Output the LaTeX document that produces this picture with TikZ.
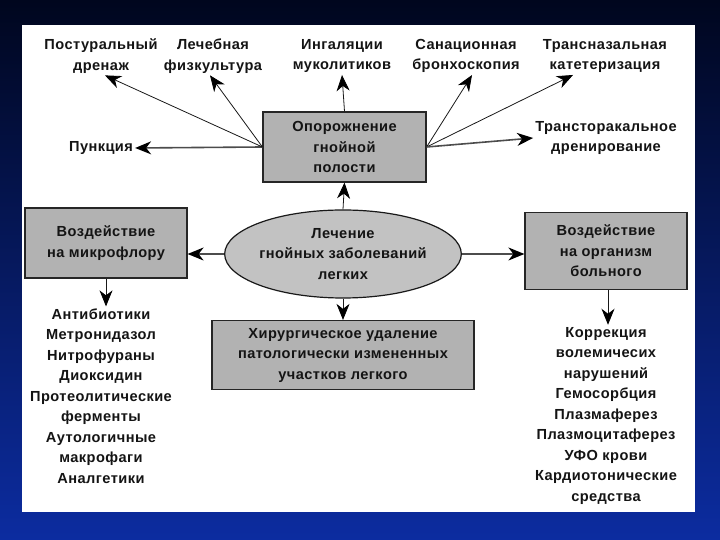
\documentclass[tikz,border=0pt]{standalone}
\usepackage{fontspec}
\setmainfont{Liberation Sans}[LetterSpace=3]
\usepackage{tikz}
\usetikzlibrary{arrows.meta, shapes.geometric}

\definecolor{slidetop}{HTML}{00061E}
\definecolor{slidebot}{HTML}{0C2CA0}
\definecolor{inkgray}{HTML}{141414}

\tikzset{
  pointer/.style={-{Stealth[length=16pt, width=13pt, inset=5pt, fill=black, color=black]}},
  boxed/.style={draw=gray!30!black, line width=1.2pt, top color=gray!60, middle color=gray!22, bottom color=gray!60}
}

\begin{document}
\begin{tikzpicture}[x=1pt, y=1pt,
    every node/.style={font=\fontsize{14.6}{20.5}\selectfont\bfseries, text=inkgray, align=center, inner sep=2pt}]
    % slide background and white panel
    \fill[top color=slidetop, bottom color=slidebot] (0,0) rectangle (720,540);
    \fill[white] (22,28) rectangle (695,515);
    \useasboundingbox (0,0) rectangle (720,540);

    \node (postur) at (101,484) {Постуральный\\дренаж};
    \node (lfk) at (213,484) {Лечебная\\физкультура};
    \node (ingal) at (342,484) {Ингаляции\\муколитиков};
    \node (sanac) at (466,484) {Санационная\\бронхоскопия};
    \node (transn) at (605,484) {Трансназальная\\катетеризация};
    \node (punk) at (101,392) {Пункция};
    \node (transt) at (606,402) {Трансторакальное\\дренирование};

    \node[boxed, minimum width=163pt, minimum height=70pt] (empty) at (344.5,393) {Опорожнение\\гнойной\\полости};
    \node[ellipse, draw=gray!20!black, line width=1.2pt, fill=gray!48, inner sep=0pt,
          minimum width=208pt, minimum height=88pt] (treat) at (343,286) {Лечение\\гнойных заболеваний\\легких};
    \node[boxed, minimum width=162pt, minimum height=70pt] (micro) at (106,297) {Воздействие\\на микрофлору};
    \node[boxed, minimum width=162pt, minimum height=77pt] (organ) at (606,289) {Воздействие\\на организм\\больного};
    \node[boxed, minimum width=262pt, minimum height=69pt] (surg) at (343,185) {Хирургическое удаление\\патологически измененных\\участков легкого};

    \node (leftlist) at (101,144) {Антибиотики\\Метронидазол\\Нитрофураны\\Диоксидин\\Протеолитические\\ферменты\\Аутологичные\\макрофаги\\Аналгетики};
    \node (rightlist) at (606,124.5) {Коррекция\\волемичесих\\нарушений\\Гемосорбция\\Плазмаферез\\Плазмоцитаферез\\УФО крови\\Кардиотонические\\средства};

    \draw[pointer, gray!60!black, line width=1.6pt] (empty.west) -- (punk.east);
    \draw[pointer, gray!20!black, line width=0.8pt] (empty.west) -- ([xshift=4pt]postur.south);
    \draw[pointer, gray!20!black, line width=0.8pt] (empty.west) -- ([xshift=-3pt]lfk.south);
    \draw[pointer, gray!20!black, line width=0.8pt] (empty.north) -- (ingal.south);
    \draw[pointer, gray!20!black, line width=0.8pt] (empty.east) -- ([xshift=6pt]sanac.south);
    \draw[pointer, gray!20!black, line width=0.8pt] (empty.east) -- ([xshift=-32pt]transn.south);
    \draw[pointer, gray!60!black, line width=1.6pt] (empty.east) -- (transt.west);

    \draw[pointer, gray!20!black, line width=0.8pt] (treat.north) -- (empty.south);
    \draw[pointer, gray!60!black, line width=1.6pt] (treat.west) -- (treat.west -| micro.east);
    \draw[pointer, gray!60!black, line width=1.6pt] (treat.east) -- (treat.east -| organ.west);
    \draw[pointer, gray!20!black, line width=0.8pt] (treat.south) -- (surg.north);
    \draw[pointer, gray!20!black, line width=0.8pt] (micro.south) -- (micro.south |- leftlist.north);
    \draw[pointer, gray!20!black, line width=0.8pt] ([xshift=2pt]organ.south) -- ([xshift=2pt]organ.south |- rightlist.north);
  \end{tikzpicture}
\end{document}
